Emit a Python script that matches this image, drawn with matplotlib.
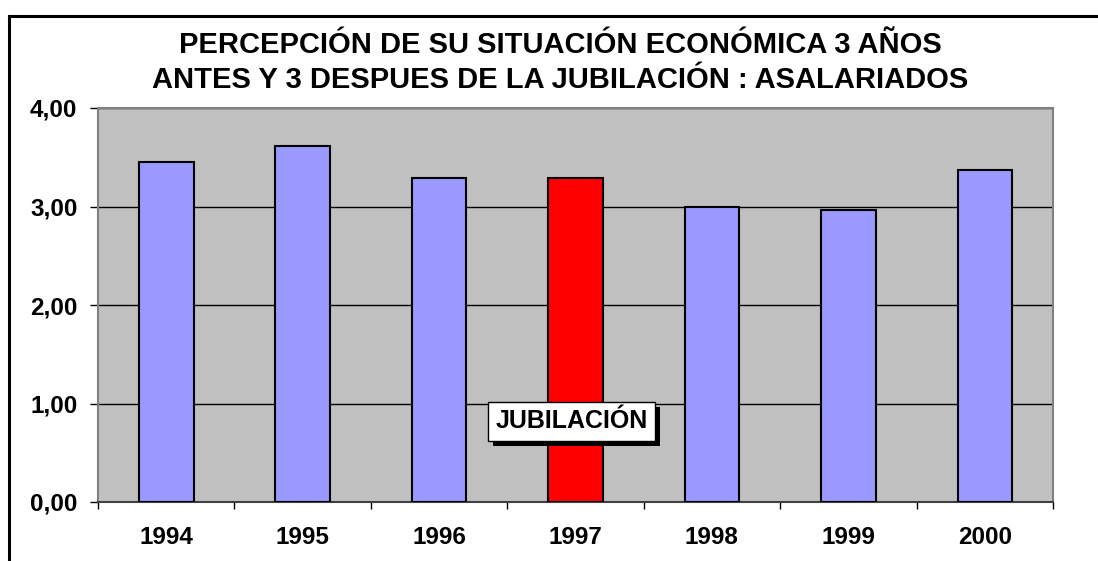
import matplotlib
matplotlib.use("Agg")
import matplotlib.pyplot as plt
from matplotlib.lines import Line2D
import matplotlib.patheffects as pe

# Mean perceived economic situation, 3 years before and after retirement
years = ["1994", "1995", "1996", "1997", "1998", "1999", "2000"]
values = [3.45, 3.61, 3.29, 3.29, 3.00, 2.96, 3.37]
retirement_year = "1997"
yticks = [0, 1, 2, 3, 4]
ytick_labels = ["0,00", "1,00", "2,00", "3,00", "4,00"]
title_lines = ["PERCEPCIÓN DE SU SITUACIÓN ECONÓMICA 3 AÑOS",
               "ANTES Y 3 DESPUES DE LA JUBILACIÓN : ASALARIADOS"]
marker_text = "JUBILACIÓN"

plt.rcParams["font.family"] = ["Liberation Sans", "DejaVu Sans"]

W, H = 1098, 561
fig = plt.figure(figsize=(W / 100, H / 100), dpi=100)
ax = fig.add_axes([98 / W, 1 - 502 / H, (1053 - 98) / W, (502 - 108) / H])

ax.set_facecolor("#C0C0C0")
colors = ["#FF0000" if y == retirement_year else "#9999FF" for y in years]
x = list(range(len(years)))
ax.bar(x, values, width=0.4, color=colors, edgecolor="black", linewidth=1.5, zorder=3)

ax.set_xlim(-0.5, len(years) - 0.5)
ax.set_ylim(0, 4)
ax.set_yticks(yticks)
ax.set_yticklabels(ytick_labels, fontsize=17.5, fontweight="bold")
ax.yaxis.grid(True, color="black", linewidth=1.0, zorder=1)
ax.set_axisbelow(True)

ax.set_xticks(x)
ax.set_xticklabels(years, fontsize=17.5, fontweight="bold")
ax.tick_params(axis="x", length=0, pad=17)
ax.set_xticks([i - 0.5 for i in range(len(years) + 1)], minor=True)
ax.tick_params(axis="x", which="minor", length=5, width=1, color="black", direction="out")
ax.tick_params(axis="y", length=5.8, width=1, color="black", direction="out", pad=9)

for side in ["top", "right", "left"]:
    ax.spines[side].set_color("#808080")
    ax.spines[side].set_linewidth(1.5)
ax.spines["bottom"].set_color("#404040")
ax.spines["bottom"].set_linewidth(1.5)

# Retirement marker label with a drop shadow
t = ax.text(2.97, 0.82, marker_text, fontsize=18, fontweight="bold",
            ha="center", va="center", zorder=5,
            bbox=dict(boxstyle="square,pad=0.3", facecolor="white",
                      edgecolor="black", linewidth=1.0))
t.get_bbox_patch().set_path_effects(
    [pe.SimplePatchShadow(offset=(3.6, -3.6), shadow_rgbFace="black", alpha=1.0), pe.Normal()])

# Title
fig.text(560 / W, 1 - 45 / H, title_lines[0], fontsize=21, fontweight="bold",
         ha="center", va="center")
fig.text(560 / W, 1 - 80 / H, title_lines[1], fontsize=21, fontweight="bold",
         ha="center", va="center")

# Chart frame: top and left edges
fig.add_artist(Line2D([9 / W, 1.0], [1 - 16 / H, 1 - 16 / H], color="black", linewidth=2.2))
fig.add_artist(Line2D([9 / W, 9 / W], [0, 1 - 16 / H], color="black", linewidth=2.2))

fig.savefig("out.png", dpi=100)
